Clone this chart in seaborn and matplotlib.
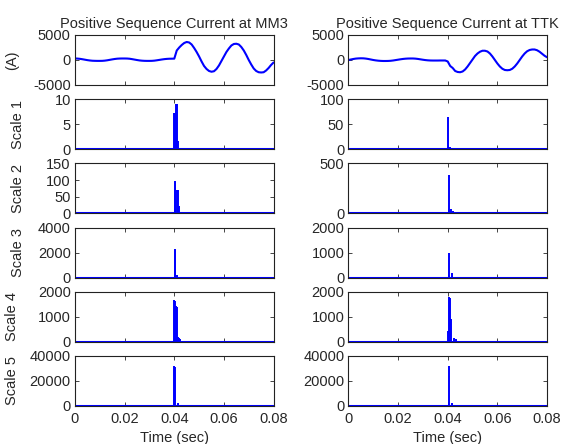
import numpy as np
import matplotlib
matplotlib.use("Agg")
import matplotlib.pyplot as plt
import seaborn as sns

# %%
# sampled positive sequence current, one sample per ms (0 .. 80 ms)
time_ms = np.arange(0, 81)
time = time_ms / 1000.0

current_mm3 = [300, 280, 230, 150, 60, -30, -100, -150, -170, -180,
               -180, -170, -130, -60, 30, 120, 200, 260, 290, 300,
               300, 290, 250, 170, 80, -10, -90, -140, -170, -180,
               -180, -170, -130, -60, 20, 100, 170, 220, 250, 260,
               270, 1900, 2500, 3000, 3400, 3600, 3500, 3100, 2400, 1600,
               700, -300, -1200, -1800, -2200, -2350, -2250, -1800, -1100, -200,
               700, 1600, 2300, 2900, 3200, 3250, 3100, 2600, 1900, 1000,
               0, -900, -1700, -2200, -2450, -2500, -2450, -2100, -1600, -1000,
               -500]

current_ttk = [0, 100, 200, 280, 320, 340, 330, 280, 200, 100,
               0, -80, -140, -180, -200, -200, -190, -160, -100, -20,
               60, 140, 210, 260, 290, 300, 300, 270, 210, 130,
               50, -20, -70, -100, -110, -110, -110, -100, -100, -100,
               -300, -1200, -1600, -2200, -2400, -2450, -2300, -1900, -1300, -600,
               100, 800, 1300, 1650, 1850, 1850, 1700, 1300, 700, 0,
               -700, -1300, -1750, -2000, -2050, -2000, -1750, -1300, -700, 0,
               700, 1300, 1750, 2000, 2100, 2100, 1950, 1650, 1250, 850,
               550]

# wavelet detail coefficients: spike times (s) and magnitudes
s1_mm3_t = [0.0400, 0.0403, 0.0408, 0.0411, 0.0415]
s1_mm3_v = [7.2, 7.3, 9.1, 9.0, 1.7]
s2_mm3_t = [0.0401, 0.0404, 0.0410, 0.0413, 0.0417]
s2_mm3_v = [96, 95, 70, 69, 21]
s3_mm3_t = [0.0401, 0.0404, 0.0410]
s3_mm3_v = [2265, 2200, 170]
s4_mm3_t = [0.0400, 0.0402, 0.0405, 0.0408, 0.0411, 0.0414, 0.0418, 0.0425]
s4_mm3_v = [1690, 1650, 1420, 1400, 1380, 200, 170, 100]
s5_mm3_t = [0.0400, 0.0402, 0.0415]
s5_mm3_v = [32200, 31000, 2000]

s1_ttk_t = [0.0403, 0.0409]
s1_ttk_v = [65, 5]
s2_ttk_t = [0.0405, 0.0413, 0.0421]
s2_ttk_v = [388, 45, 28]
s3_ttk_t = [0.0405, 0.0416]
s3_ttk_v = [980, 180]
s4_ttk_t = [0.0401, 0.0407, 0.0410, 0.0415, 0.0424, 0.0434]
s4_ttk_v = [420, 1790, 1750, 915, 170, 100]
s5_ttk_t = [0.0405, 0.0416]
s5_ttk_v = [32200, 2200]

titles = ["Positive Sequence Current at MM3", "Positive Sequence Current at TTK"]
row_labels = ["(A)", "Scale 1", "Scale 2", "Scale 3", "Scale 4", "Scale 5"]
x_ticks = [0, 0.02, 0.04, 0.06, 0.08]
x_ticklabels = ["0", "0.02", "0.04", "0.06", "0.08"]

mm3_ylim = [(-5000, 5000), (0, 10), (0, 150), (0, 4000), (0, 2000), (0, 40000)]
mm3_yticks = [[-5000, 0, 5000], [0, 5, 10], [0, 50, 100, 150], [0, 2000, 4000],
              [0, 1000, 2000], [0, 20000, 40000]]
ttk_ylim = [(-5000, 5000), (0, 100), (0, 500), (0, 2000), (0, 2000), (0, 40000)]
ttk_yticks = [[-5000, 0, 5000], [0, 50, 100], [0, 500], [0, 1000, 2000],
              [0, 1000, 2000], [0, 20000, 40000]]

# %%
sns.set_style("ticks")
plt.rcParams["font.family"] = ["Liberation Sans", "DejaVu Sans"]
plt.rcParams["font.size"] = 10.5
plt.rcParams["axes.unicode_minus"] = False

blue = "#0000ff"
fs = 10.5
# where the right edge of each y label sits, in axes fraction
label_x = [-0.28, -0.25, -0.25, -0.25, -0.28, -0.28]

fig, axes = plt.subplots(6, 2, figsize=(5.63, 4.44), dpi=100)
fig.subplots_adjust(left=0.1332, right=0.9716, top=0.9212, bottom=0.0856,
                    hspace=0.284, wspace=0.377)

spikes = [
    [(s1_mm3_t, s1_mm3_v), (s2_mm3_t, s2_mm3_v), (s3_mm3_t, s3_mm3_v),
     (s4_mm3_t, s4_mm3_v), (s5_mm3_t, s5_mm3_v)],
    [(s1_ttk_t, s1_ttk_v), (s2_ttk_t, s2_ttk_v), (s3_ttk_t, s3_ttk_v),
     (s4_ttk_t, s4_ttk_v), (s5_ttk_t, s5_ttk_v)],
]
currents = [current_mm3, current_ttk]
ylims = [mm3_ylim, ttk_ylim]
yticks = [mm3_yticks, ttk_yticks]

for col in range(2):
    for row in range(6):
        ax = axes[row, col]
        if row == 0:
            sns.lineplot(x=time, y=currents[col], ax=ax, color=blue, lw=1.5)
            ax.set_title(titles[col], fontsize=fs, pad=5)
        else:
            st, sv = spikes[col][row - 1]
            sns.lineplot(x=[time[0], time[-1]], y=[0, 0], ax=ax, color=blue, lw=2.2)
            ax.vlines(st, 0, sv, color=blue, lw=1.4)
        ax.set_xlim(0, 0.08)
        ax.set_ylim(*ylims[col][row])
        ax.set_yticks(yticks[col][row])
        ax.set_xticks(x_ticks)
        if row == 5:
            ax.set_xticklabels(x_ticklabels)
            ax.set_xlabel("Time (sec)", fontsize=fs, labelpad=4)
        else:
            ax.set_xticklabels([])
            ax.set_xlabel("")
        if col == 0:
            ax.set_ylabel(row_labels[row], fontsize=fs)
            ax.yaxis.set_label_coords(label_x[row], 0.5)
        else:
            ax.set_ylabel("")
        ax.tick_params(direction="in", top=True, right=True, length=3,
                       width=0.6, labelsize=fs)
        ax.tick_params(axis="y", pad=3)
        ax.tick_params(axis="x", pad=4)
        for sp in ax.spines.values():
            sp.set_visible(True)
            sp.set_linewidth(0.8)
            sp.set_color("#222222")

fig.savefig("out.png", dpi=100)
